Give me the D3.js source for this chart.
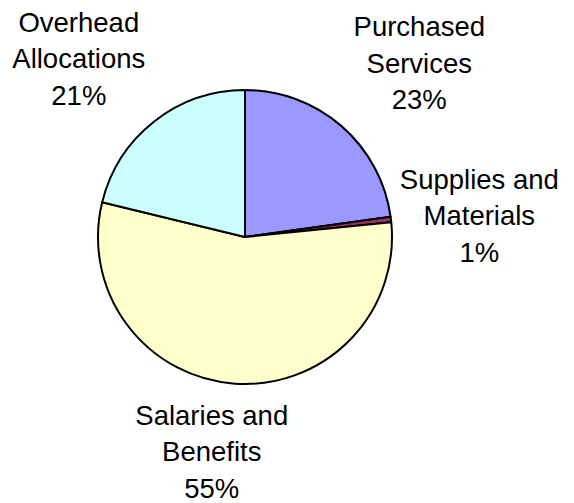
<!DOCTYPE html>
<html>
<head>
<meta charset="utf-8">
<script src="https://cdn.jsdelivr.net/npm/d3@7"></script>
<style>
  body { margin: 0; background: #fff; }
  svg text { font-family: "Liberation Sans", Arial, sans-serif; font-size: 27.5px; fill: #000; }
</style>
</head>
<body>
<svg id="chart"></svg>
<script>
// slices go clockwise from 12 o'clock
const categories = ['Purchased Services', 'Supplies and Materials', 'Salaries and Benefits', 'Overhead Allocations']
const labelLines = [['Purchased', 'Services'], ['Supplies and', 'Materials'], ['Salaries and', 'Benefits'], ['Overhead', 'Allocations']]
const values = [22.8, 0.6, 55.4, 21.2]
const colors = ['#9999ff', '#993366', '#ffffcc', '#ccffff']

const width = 574
const height = 503
const cx = 245
const cy = 237
const radius = 147
const labelRadius = 235
const lineGap = 36.5
// excel "best fit" pushes the labels about a bit
const nudge = [[20, 13], [1, 16], [-17, -10], [-21, 16]]

const svg = d3.select('svg#chart')
  .attr('width', width)
  .attr('height', height)

const data = categories.map((c, i) => ({ name: c, value: values[i], i }))
const total = d3.sum(values)

const pie = d3.pie()
  .value(d => d.value)
  .sort(null)

const arc = d3.arc()
  .innerRadius(0)
  .outerRadius(radius)

const labelArc = d3.arc()
  .innerRadius(labelRadius)
  .outerRadius(labelRadius)

const color = d3.scaleOrdinal()
  .domain(categories)
  .range(colors)

const g = svg.append('g')
  .attr('transform', `translate(${cx},${cy})`)

const arcs = pie(data)

g.selectAll('path.slice')
  .data(arcs)
  .enter().append('path')
  .attr('class', 'slice')
  .attr('d', arc)
  .attr('fill', d => color(d.data.name))
  .attr('stroke', '#000')
  .attr('stroke-width', 2)
  .attr('stroke-linejoin', 'round')

const label = g.selectAll('text.label')
  .data(arcs)
  .enter().append('text')
  .attr('class', 'label')
  .attr('text-anchor', 'middle')
  .attr('transform', d => {
    const [x, y] = labelArc.centroid(d)
    const n = nudge[d.data.i]
    return `translate(${x + n[0]},${y + n[1]})`
  })

label.each(function (d) {
  const lines = labelLines[d.data.i].concat([d3.format('.0f')(d.data.value / total * 100) + '%'])
  d3.select(this).selectAll('tspan')
    .data(lines)
    .enter().append('tspan')
    .attr('x', 0)
    .attr('y', (l, k) => (k - 1) * lineGap)
    .text(l => l)
})
</script>
</body>
</html>
